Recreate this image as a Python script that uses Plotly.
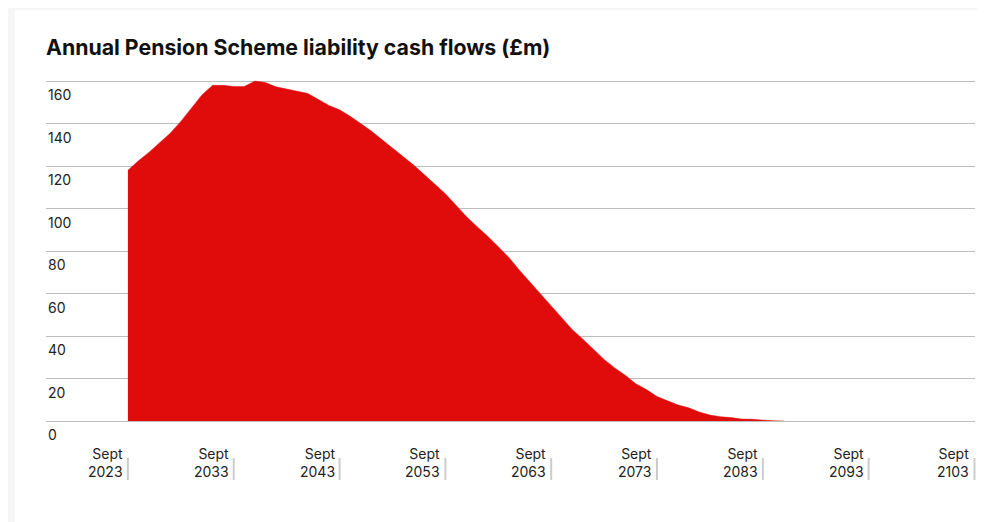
import plotly.graph_objects as go

# ---- data ----
years = list(range(2023, 2086))
cash_flows = [
    118.0, 122.5, 126.5, 131.0, 135.5, 141.0, 147.0, 153.5, 158.0, 158.0,
    157.5, 157.5, 160.0, 159.3, 157.3, 156.3, 155.3, 154.2, 151.4, 148.5,
    146.5, 143.5, 140.0, 136.5, 132.5, 128.5, 124.5, 120.5, 116.0, 111.3,
    107.0, 101.6, 96.2, 91.5, 87.0, 82.0, 77.0, 71.0, 65.5, 60.0,
    54.0, 48.5, 43.0, 38.5, 33.5, 29.0, 25.0, 21.5, 17.5, 14.8,
    11.5, 9.5, 7.5, 6.2, 4.2, 2.8, 2.0, 1.6, 0.9, 0.8,
    0.4, 0.1, 0.0,
]
tick_years = [2023, 2033, 2043, 2053, 2063, 2073, 2083, 2093, 2103]
tick_month = "Sept"
y_ticks = [0, 20, 40, 60, 80, 100, 120, 140, 160]
title_text = "Annual Pension Scheme liability cash flows (£m)"

RED = "#e00c0c"
FONT = "Inter"
TEXT = "#222222"

x_range = [2015.26, 2103.05]
y_range = [0, 161]

W, H = 977, 514  # page body has an 8px margin
T, B = 71, 101
PH = H - T - B  # plot height in px

fig = go.Figure()
fig.add_trace(go.Scatter(
    x=years, y=cash_flows, mode="lines", fill="tozeroy",
    fillcolor=RED, line=dict(color=RED, width=0.5),
    hoverinfo="x+y", showlegend=False,
))

shapes = []
# white card
shapes.append(dict(type="rect", xref="paper", yref="paper",
                   x0=-31 / 929, x1=1.2, y0=-0.4, y1=1 + (T - 2) / PH,
                   fillcolor="white", line=dict(width=0), layer="below"))

annotations = []
# x tick labels and tick marks
for yr in tick_years:
    xp = (yr - x_range[0]) / (x_range[1] - x_range[0])
    shapes.append(dict(type="line", xref="paper", yref="paper",
                       x0=xp, x1=xp, y0=-37 / PH, y1=-59 / PH,
                       line=dict(color="#cccccc", width=2)))
    annotations.append(dict(x=yr, y=-22 / PH, xref="x", yref="paper",
                            text=f"{tick_month}<br>{yr}", showarrow=False,
                            xanchor="right", yanchor="top", align="right",
                            xshift=-3,
                            font=dict(family=FONT, size=14, color=TEXT)))
# y tick labels (below gridlines)
for v in y_ticks:
    annotations.append(dict(x=0, y=v, xref="paper", yref="y",
                            text=str(v), showarrow=False,
                            xanchor="left", yanchor="top", yshift=-3,
                            font=dict(family=FONT, size=14, color=TEXT)))

fig.update_layout(
    width=W, height=H,
    margin=dict(l=38, r=10, t=T, b=B),
    paper_bgcolor="#f6f6f6", plot_bgcolor="white",
    title=dict(text=f"<b>{title_text}</b>", x=0, xref="paper", xanchor="left",
               y=1 - 40 / H, yref="container", yanchor="middle",
               font=dict(family=FONT, size=21.3, color="#111111")),
    xaxis=dict(range=x_range, showgrid=False, zeroline=False,
               showticklabels=False, ticks="", showline=False),
    yaxis=dict(range=y_range, tickvals=y_ticks, showticklabels=False,
               showgrid=True, gridcolor="#bdbdbd", gridwidth=1,
               zeroline=True, zerolinecolor="#bdbdbd", zerolinewidth=1,
               ticks="", showline=False),
    shapes=shapes, annotations=annotations,
    hovermode="closest",
)

fig.write_html("out.html")
